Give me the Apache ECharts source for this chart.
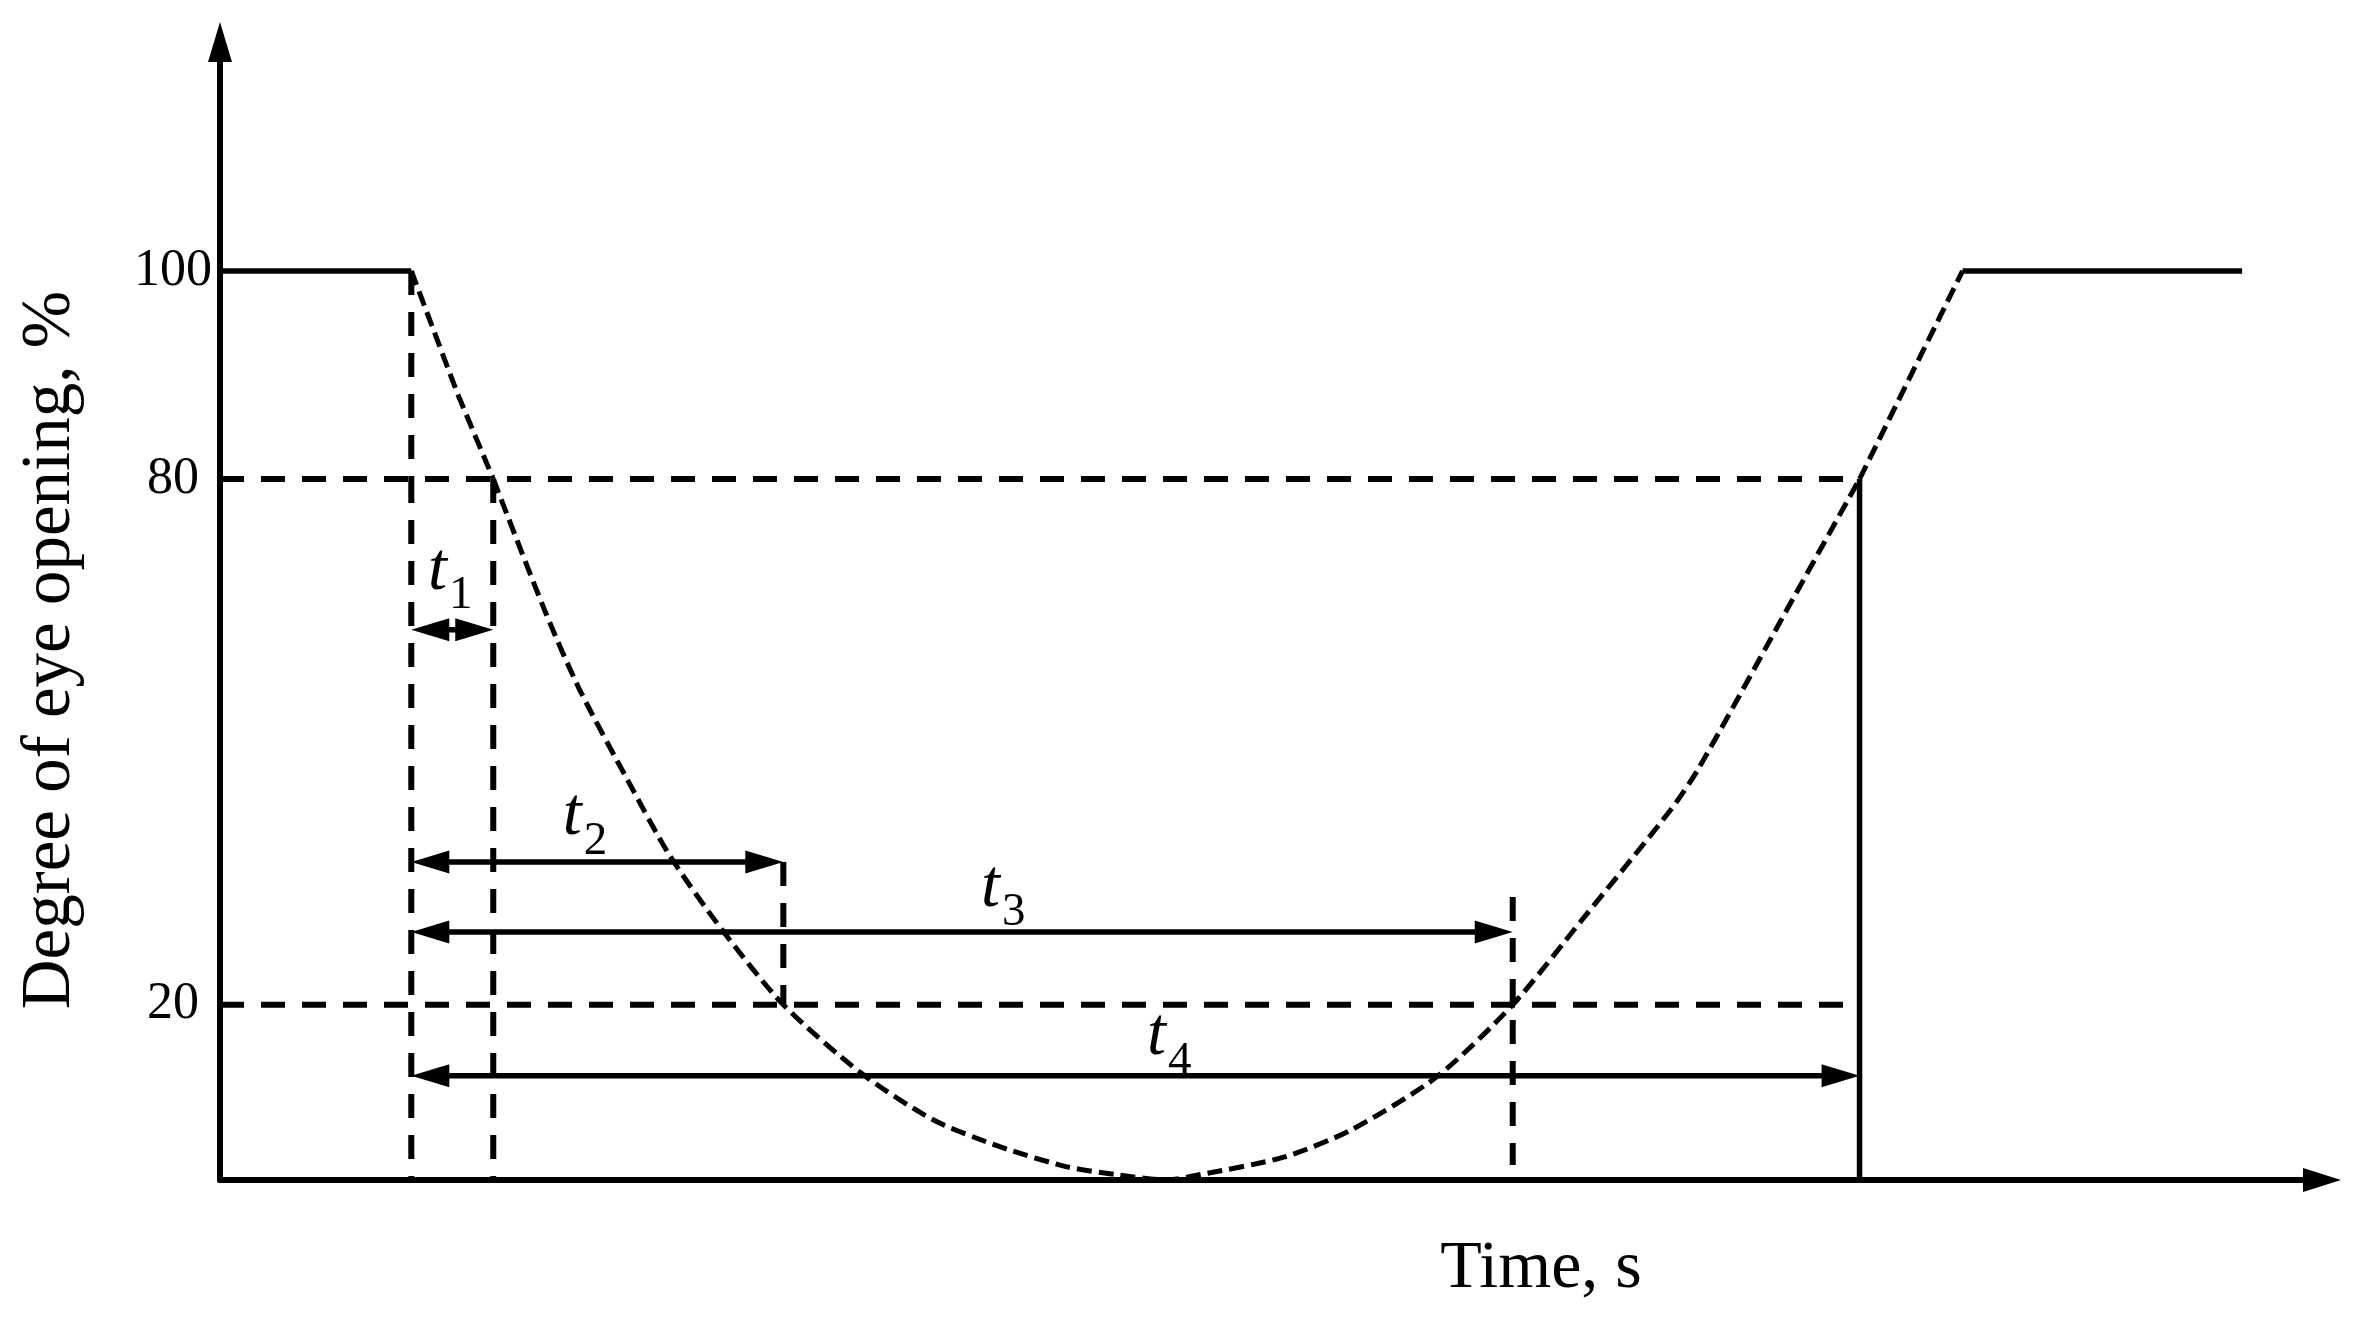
<!DOCTYPE html>
<html>
<head>
<meta charset="utf-8">
<title>Degree of eye opening</title>
<script src="https://cdn.jsdelivr.net/npm/echarts@6/dist/echarts.min.js"></script>
<style>
  html, body { margin: 0; padding: 0; background: #fff; }
  #chart { width: 2371px; height: 1322px; }
</style>
</head>
<body>
<div id="chart"></div>
<script>
// time runs in arbitrary units (0..100 along the axis), opening in %
// the drawing has a stretched band between 80 and 100, so it is split in two grids
const breakLevel = 80;
const lowerTicks = [20, 80];
const upperTicks = [100];

const openBefore = [[0, 100], [9.1, 100]];
const openAfter = [[82.9, 100], [96.2, 100]];
const closingUpper = [[9.1, 100], [11.3, 88.2], [13.0, 80]];
const reopeningUpper = [[78.0, 80], [80.5, 90.2], [82.9, 100]];
const blinkLower = [
  [13.0, 80], [15.5, 64.7], [17.1, 56.0], [19.4, 45.6], [21.4, 37.0], [23.9, 28.5],
  [26.8, 20], [30.5, 12.2], [33.9, 6.9], [37.1, 3.8], [40.3, 1.5], [42.7, 0.6],
  [45.0, 0], [46.6, 0.6], [50.6, 2.6], [53.8, 5.7], [57.9, 11.8], [61.5, 20],
  [64.8, 29.7], [69.0, 42.2], [70.3, 46.8], [74.2, 63.6], [78.0, 80]
];

const thresholdLevels = [80, 20];
const thresholdEnd = 78.0;

// vertical guides: [time, from level, to level]
const guideLines = [[9.1, 100, 0], [13.0, 80, 0], [26.8, 36.3, 20], [61.5, 32.3, 1.7]];
const reopenMark = [[78.0, 80], [78.0, 0]];

const intervalNames = ['1', '2', '3', '4'];
const intervalStart = 9.1;
const intervalEnds = [13.0, 26.8, 61.5, 78.0];
const intervalLevels = [62.8, 36.3, 28.3, 11.9];
const labelTimes = [9.9, 16.3, 36.2, 44.1];
const labelLevels = [67.0, 39.0, 30.8, 13.9];

const black = '#000';
const serif = '"Liberation Serif", "Times New Roman", serif';
const solidStyle = { color: black, width: 5.5 };
const guideStyle = { color: black, width: 6, type: [24, 17] };
const curveStyle = { color: black, width: 5, type: [15, 7] };

function lineSeries(data, grid, style, smooth) {
  return {
    type: 'line',
    xAxisIndex: grid,
    yAxisIndex: grid,
    data: data,
    symbol: 'none',
    clip: false,
    smooth: smooth || false,
    lineStyle: style,
    silent: true
  };
}

const series = [
  lineSeries(openBefore, 1, solidStyle),
  lineSeries(openAfter, 1, solidStyle),
  lineSeries(closingUpper, 1, curveStyle),
  lineSeries(reopeningUpper, 1, curveStyle),
  lineSeries(blinkLower, 0, curveStyle, 0.25),
  lineSeries(reopenMark, 0, solidStyle)
];

thresholdLevels.forEach(function (lv) {
  series.push(lineSeries([[0, lv], [thresholdEnd, lv]], 0, guideStyle));
});

guideLines.forEach(function (g) {
  if (g[1] > breakLevel) {
    series.push(lineSeries([[g[0], g[1]], [g[0], breakLevel]], 1, guideStyle));
    series.push(lineSeries([[g[0], breakLevel], [g[0], g[2]]], 0, guideStyle));
  } else {
    series.push(lineSeries([[g[0], g[1]], [g[0], g[2]]], 0, guideStyle));
  }
});

// double headed interval arrows
series.push({
  type: 'custom',
  xAxisIndex: 0,
  yAxisIndex: 0,
  silent: true,
  data: intervalEnds.map(function (end, i) { return [intervalStart, end, intervalLevels[i]]; }),
  renderItem: function (params, api) {
    const a = api.coord([api.value(0), api.value(2)]);
    const b = api.coord([api.value(1), api.value(2)]);
    const L = 38, W = 23, y = a[1];
    return {
      type: 'group',
      children: [
        { type: 'line', shape: { x1: a[0] + 25, y1: y, x2: b[0] - 25, y2: y },
          style: { stroke: black, lineWidth: 5.5 } },
        { type: 'polygon', shape: { points: [[a[0], y], [a[0] + L, y - W / 2], [a[0] + L, y + W / 2]] },
          style: { fill: black } },
        { type: 'polygon', shape: { points: [[b[0], y], [b[0] - L, y - W / 2], [b[0] - L, y + W / 2]] },
          style: { fill: black } }
      ]
    };
  }
});

// t1..t4 labels, anchored at the baseline of the t
series.push({
  type: 'custom',
  xAxisIndex: 0,
  yAxisIndex: 0,
  silent: true,
  data: labelTimes.map(function (t, i) { return [t, labelLevels[i]]; }),
  renderItem: function (params, api) {
    const p = api.coord([api.value(0), api.value(1)]);
    return {
      type: 'group',
      children: [
        { type: 'text', x: p[0], y: p[1] - 22,
          style: { text: 't', fontFamily: serif, fontStyle: 'italic', fontSize: 68,
                   fill: black, align: 'left', verticalAlign: 'middle' } },
        { type: 'text', x: p[0] + 21, y: p[1] + 3,
          style: { text: intervalNames[params.dataIndex], fontFamily: serif, fontSize: 47,
                   fill: black, align: 'left', verticalAlign: 'middle' } }
      ]
    };
  }
});

const axisLineStyle = { color: black, width: 6 };
const tickFont = { fontFamily: serif, fontSize: 52, color: black };

const option = {
  animation: false,
  backgroundColor: '#fff',
  grid: [
    { left: 220, right: 49, top: 479, bottom: 142, outerBoundsMode: 'none' },
    { left: 220, right: 49, top: 42, bottom: 843, outerBoundsMode: 'none' }
  ],
  xAxis: [
    {
      gridIndex: 0, type: 'value', min: 0, max: 100,
      axisLine: { show: true, onZero: false, lineStyle: axisLineStyle,
                  symbol: ['none', 'triangle'], symbolSize: [24, 38] },
      axisTick: { show: false }, axisLabel: { show: false }, splitLine: { show: false },
      name: 'Time, s', nameLocation: 'middle', nameGap: 55, nameMoveOverlap: false,
      nameTextStyle: { fontFamily: serif, fontSize: 68, color: black, padding: [0, 0, 0, 540] }
    },
    { gridIndex: 1, type: 'value', min: 0, max: 100, show: false }
  ],
  yAxis: [
    {
      gridIndex: 0, type: 'value', min: 0, max: breakLevel,
      axisLine: { show: true, onZero: false, lineStyle: axisLineStyle },
      axisTick: { show: false }, splitLine: { show: false },
      axisLabel: Object.assign({ customValues: lowerTicks, align: 'center', margin: 47 }, tickFont),
      name: 'Degree of eye opening, %', nameLocation: 'middle', nameGap: 135, nameMoveOverlap: false,
      nameTextStyle: { fontFamily: serif, fontSize: 69, color: black, padding: [0, 0, 0, 359] }
    },
    {
      gridIndex: 1, type: 'value', min: breakLevel, max: 122,
      axisLine: { show: true, onZero: false, lineStyle: axisLineStyle,
                  symbol: ['none', 'triangle'], symbolSize: [24, 40] },
      axisTick: { show: false }, splitLine: { show: false },
      axisLabel: Object.assign({ customValues: upperTicks, align: 'center', margin: 47 }, tickFont)
    }
  ],
  series: series
};

const chart = echarts.init(document.getElementById('chart'), null, { renderer: 'canvas' });
chart.setOption(option);
</script>
</body>
</html>
